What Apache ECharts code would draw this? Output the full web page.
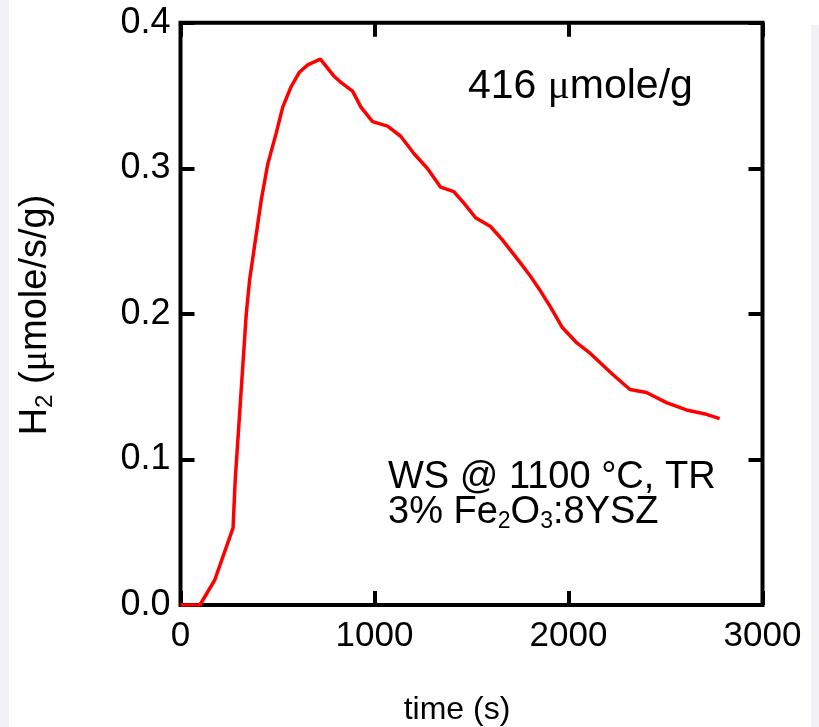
<!DOCTYPE html>
<html>
<head>
<meta charset="utf-8">
<script src="https://cdn.jsdelivr.net/npm/echarts@6/dist/echarts.min.js"></script>
<style>
html,body{margin:0;padding:0;background:#fff;}
#chart{width:819px;height:727px;}
</style>
</head>
<body>
<div id="chart"></div>
<script>
// Data
var timeS = [0, 100, 176, 271, 282, 305, 322, 339, 356, 416, 450, 493, 527, 570, 613, 656, 721, 793, 827, 887, 930, 990, 1067, 1135, 1204, 1272, 1341, 1409, 1461, 1521, 1598, 1658, 1752, 1803, 1854, 1906, 1966, 2043, 2111, 2231, 2317, 2402, 2505, 2608, 2711, 2779];
var h2Rate = [0, 0, 0.017, 0.053, 0.086, 0.132, 0.166, 0.200, 0.223, 0.278, 0.303, 0.324, 0.342, 0.356, 0.366, 0.371, 0.375, 0.363, 0.359, 0.353, 0.342, 0.332, 0.329, 0.322, 0.310, 0.300, 0.287, 0.284, 0.276, 0.266, 0.260, 0.251, 0.235, 0.226, 0.216, 0.205, 0.191, 0.180, 0.173, 0.158, 0.148, 0.146, 0.139, 0.134, 0.131, 0.128];
var xTicks = [0, 1000, 2000, 3000];
var yTicks = [0.0, 0.1, 0.2, 0.3, 0.4];

var FONT = "'Liberation Sans', Arial, sans-serif";
var chart = echarts.init(document.getElementById('chart'));

var seriesData = timeS.map(function (t, i) { return [t, h2Rate[i]]; });

function mkX(pos, showLabel) {
  return {
    type: 'value', position: pos, min: xTicks[0], max: xTicks[xTicks.length - 1],
    interval: xTicks[1] - xTicks[0],
    axisLine: { show: false, onZero: false },
    axisTick: { show: true, inside: true, length: 14, lineStyle: { color: '#000', width: 4 } },
    axisLabel: { show: showLabel, fontSize: 35, color: '#000', fontFamily: FONT, margin: 14,
      formatter: function (v) { return String(v); } },
    splitLine: { show: false }
  };
}
function mkY(pos, showLabel) {
  return {
    type: 'value', position: pos, min: yTicks[0], max: yTicks[yTicks.length - 1],
    interval: 0.1,
    axisLine: { show: false, onZero: false },
    axisTick: { show: true, inside: true, length: 14, lineStyle: { color: '#000', width: 4 } },
    axisLabel: { show: showLabel, fontSize: 36, color: '#000', fontFamily: FONT, margin: 10,
      formatter: function (v) { return v.toFixed(1); } },
    splitLine: { show: false }
  };
}

var option = {
  animation: false,
  backgroundColor: '#ffffff',
  grid: { left: 180.5, right: 56.5, top: 22.7, bottom: 122, show: true,
    borderColor: '#000', borderWidth: 4, backgroundColor: 'transparent' },
  xAxis: [mkX('bottom', true), mkX('top', false)],
  yAxis: [mkY('left', true), mkY('right', false)],
  series: [{
    type: 'line', xAxisIndex: 0, yAxisIndex: 0, data: seriesData,
    showSymbol: false, smooth: false,
    lineStyle: { color: '#ff0000', width: 3.5 }
  }],
  graphic: [
    { type: 'rect', z: -10, shape: { x: 0, y: 0, width: 9, height: 727 }, style: { fill: '#f2f2f6' } },
    { type: 'rect', z: -10, shape: { x: 811, y: 25, width: 8, height: 702 }, style: { fill: '#f2f2f6' } },
    { type: 'text', x: 468, y: 110, z: 10,
      style: { text: '{n|416 }{m|μ}{n|mole/g}', fill: '#000', textAlign: 'left', textVerticalAlign: 'bottom',
        rich: { n: { fontSize: 41, fontFamily: FONT, fill: '#000', lineHeight: 46 },
                m: { fontSize: 41, fontFamily: "'Liberation Serif', serif", fill: '#000', lineHeight: 46 } } } },
    { type: 'text', x: 388, y: 459, z: 10,
      style: { text: 'WS @ 1100 °C, TR', fill: '#000', font: "38px " + FONT, textAlign: 'left', textVerticalAlign: 'top' } },
    { type: 'text', x: 388, y: 493, z: 10,
      style: { text: '{n|3% Fe}{s|2}{n|O}{s|3}{n|:8YSZ}', fill: '#000', textAlign: 'left', textVerticalAlign: 'top',
        rich: { n: { fontSize: 38, fontFamily: FONT, fill: '#000', lineHeight: 40 },
                s: { fontSize: 23, fontFamily: FONT, fill: '#000', lineHeight: 14, verticalAlign: 'bottom' } } } },
    { type: 'text', x: 457, y: 710, z: 10,
      style: { text: 'time (s)', fill: '#000', font: "32px " + FONT, textAlign: 'center', textVerticalAlign: 'middle' } },
    { type: 'text', x: 36, y: 315, rotation: Math.PI / 2, z: 10,
      style: { text: '{n|H}{s|2}{n| (}{m|μ}{n|mole/s/g)}', fill: '#000', textAlign: 'center', textVerticalAlign: 'middle',
        rich: { n: { fontSize: 38, fontFamily: FONT, fill: '#000', lineHeight: 42 },
                m: { fontSize: 38, fontFamily: "'Liberation Serif', serif", fill: '#000', lineHeight: 42 },
                s: { fontSize: 24, fontFamily: FONT, fill: '#000', lineHeight: 14, verticalAlign: 'bottom' } } } }
  ]
};
chart.setOption(option);
</script>
</body>
</html>
